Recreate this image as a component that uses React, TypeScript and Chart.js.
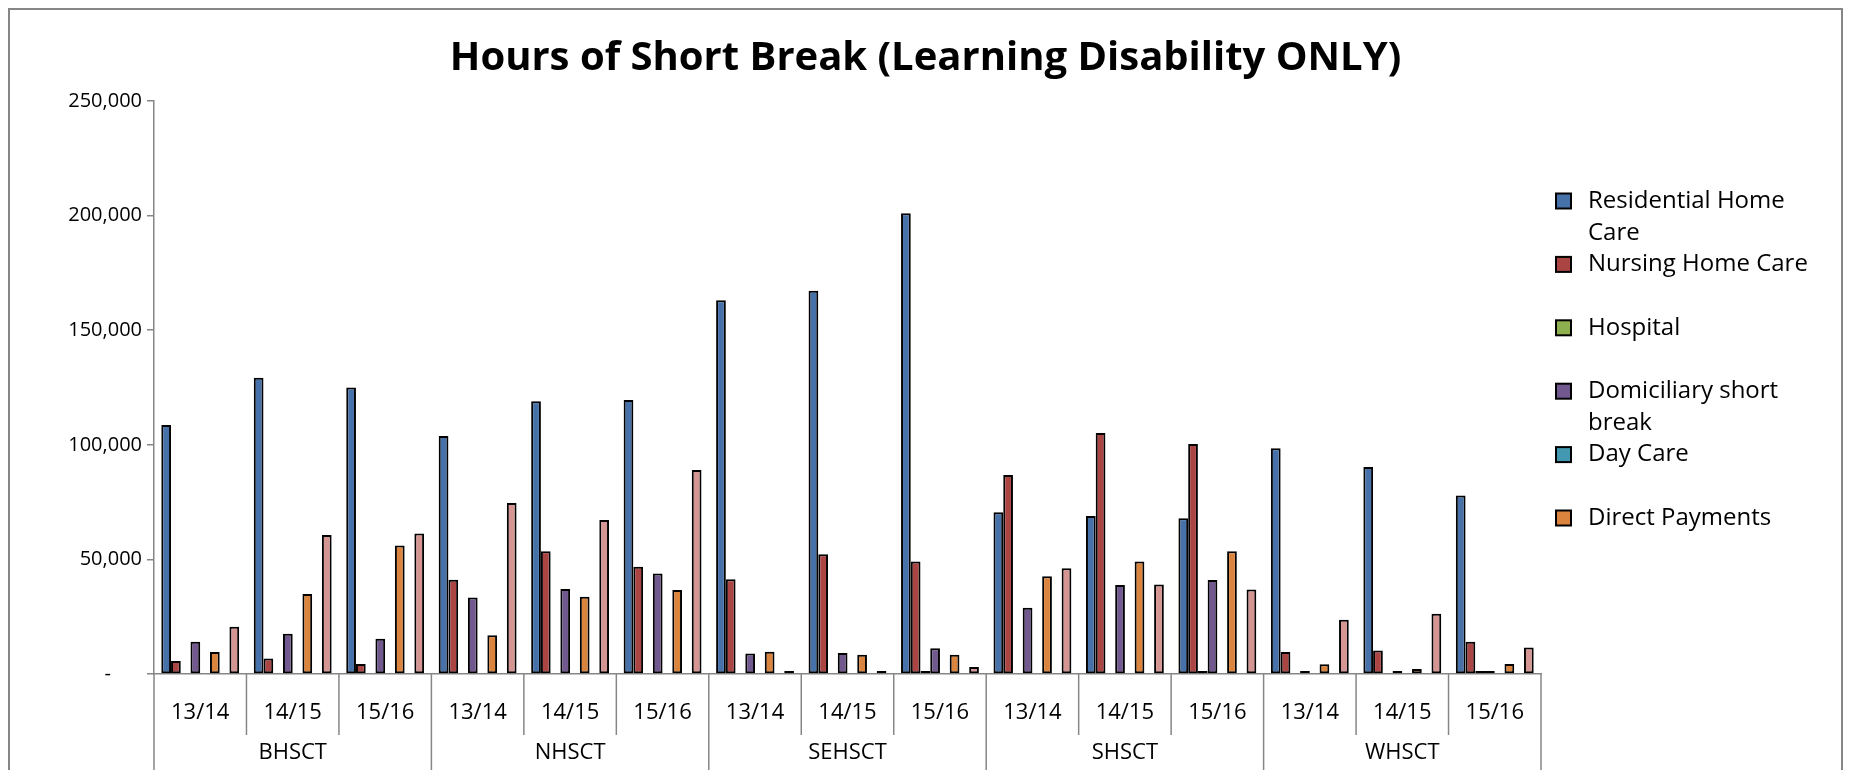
import React, { useEffect, useRef } from 'react';
import { Chart, registerables } from 'chart.js';

Chart.register(...registerables);

const TITLE = 'Hours of Short Break (Learning Disability ONLY)';
const TRUSTS = ['BHSCT', 'NHSCT', 'SEHSCT', 'SHSCT', 'WHSCT'];
const YEARS = ['13/14', '14/15', '15/16'];

const RESIDENTIAL = [108600, 129200, 125000, 103800, 119000, 119500, 163100, 167200, 201000, 70600, 68900, 68000, 98500, 90300, 77900];
const NURSING = [5700, 6800, 4400, 41100, 53600, 46800, 41300, 52300, 49100, 86800, 105200, 100400, 9600, 10300, 14100];
const HOSPITAL = [null, null, null, null, null, null, null, null, 400, null, null, 300, null, null, 200];
const DOMICILIARY = [14100, 17600, 15400, 33400, 37100, 43900, 8900, 9200, 11200, 28900, 38800, 41000, 900, 900, 1300];
const DAY_CARE = [null, null, null, null, null, null, null, null, null, null, null, null, null, null, null];
const DIRECT_PAYMENTS = [9600, 34900, 56100, 16900, 33700, 36600, 9700, 8400, 8400, 42600, 49100, 53600, 4200, 2200, 4400];
const OTHER_EMPTY = [null, null, null, null, null, null, null, null, null, null, null, null, null, null, null];
const OTHER = [20600, 60600, 61300, 74600, 67200, 89000, 400, 400, 3100, 46100, 39100, 36900, 23700, 26300, 11600];

const SERIES_NAMES = ['Residential Home Care', 'Nursing Home Care', 'Hospital', 'Domiciliary short break', 'Day Care', 'Direct Payments', 'Other Services', 'Other'];
const SERIES_VALUES = [RESIDENTIAL, NURSING, HOSPITAL, DOMICILIARY, DAY_CARE, DIRECT_PAYMENTS, OTHER_EMPTY, OTHER];
const SERIES_COLORS = ['#4672A9', '#AA4543', '#8FB04F', '#71588F', '#4299B1', '#DB843D', '#93A9CF', '#D59593'];
const LEGEND_VISIBLE = 6;

const Y_MAX = 250000;
const Y_STEP = 50000;

const GRAY = '#868686';
const FONT = "'Open Sans', 'DejaVu Sans', sans-serif";

const CATEGORY_LABELS = TRUSTS.flatMap(() => YEARS);

const multiLevelAxis = {
  id: 'multiLevelAxis',
  afterDraw(chart: any) {
    const x = chart.scales.x;
    const ctx = chart.ctx;
    const n = chart.data.labels.length;
    const step = (x.right - x.left) / n;
    ctx.save();
    ctx.strokeStyle = GRAY;
    ctx.lineWidth = 1.5;
    for (let i = 0; i <= n; i++) {
      const px = x.left + i * step;
      const isGroup = i % YEARS.length === 0;
      ctx.beginPath();
      ctx.moveTo(px, x.top);
      ctx.lineTo(px, isGroup ? chart.height : x.top + 61);
      ctx.stroke();
    }
    ctx.fillStyle = '#000';
    ctx.font = `22px ${FONT}`;
    ctx.textAlign = 'center';
    ctx.textBaseline = 'middle';
    TRUSTS.forEach((t, g) => {
      const cx = x.left + (g * YEARS.length + YEARS.length / 2) * step;
      ctx.fillText(t, cx, x.top + 79);
    });
    ctx.restore();
  },
};

const sideLegend = {
  id: 'sideLegend',
  afterDraw(chart: any) {
    const ctx = chart.ctx;
    const area = chart.chartArea;
    const markerX = area.right + 15;
    const textX = area.right + 47;
    const maxW = 245;
    const startY = 191;
    const gap = 63.4;
    const lineH = 32;
    ctx.save();
    ctx.font = `24px ${FONT}`;
    ctx.textAlign = 'left';
    ctx.textBaseline = 'middle';
    chart.data.datasets.slice(0, LEGEND_VISIBLE).forEach((ds: any, i: number) => {
      const y = startY + i * gap;
      ctx.fillStyle = ds.backgroundColor;
      ctx.fillRect(markerX, y - 7.5, 15, 15);
      ctx.strokeStyle = '#000';
      ctx.lineWidth = 2;
      ctx.strokeRect(markerX, y - 7.5, 15, 15);
      const words = String(ds.label).split(' ');
      const lines: string[] = [];
      let cur = '';
      words.forEach((w) => {
        const test = cur ? cur + ' ' + w : w;
        if (ctx.measureText(test).width > maxW && cur) {
          lines.push(cur);
          cur = w;
        } else {
          cur = test;
        }
      });
      if (cur) lines.push(cur);
      ctx.fillStyle = '#000';
      lines.forEach((l, k) => ctx.fillText(l, textX, y + k * lineH));
    });
    ctx.restore();
  },
};

export default function App() {
  const ref = useRef<HTMLCanvasElement | null>(null);

  useEffect(() => {
    if (!ref.current) return;
    const chart = new Chart(ref.current, {
      type: 'bar',
      data: {
        labels: CATEGORY_LABELS,
        datasets: SERIES_NAMES.map((name, i) => ({
          label: name,
          data: SERIES_VALUES[i],
          backgroundColor: SERIES_COLORS[i],
          borderColor: '#000',
          borderWidth: 2,
          borderSkipped: false,
          minBarLength: 3,
          categoryPercentage: 8 / 9.5,
          barPercentage: 1,
        })),
      },
      options: {
        responsive: false,
        animation: false,
        layout: { padding: { left: 0, right: 0, top: 0, bottom: 0 } },
        plugins: {
          legend: { display: false },
          tooltip: { enabled: false },
          title: {
            display: true,
            text: TITLE,
            color: '#000',
            font: { family: FONT, size: 40, weight: 'bold' },
            padding: { top: 25, bottom: 18 },
          },
        },
        scales: {
          x: {
            offset: true,
            grid: { display: true, drawOnChartArea: false, drawTicks: false },
            border: { display: true, color: GRAY, width: 1.5 },
            ticks: {
              autoSkip: false,
              maxRotation: 0,
              color: '#000',
              font: { family: FONT, size: 22 },
              padding: 26,
            },
            afterFit: (scale: any) => {
              scale.height = 96;
            },
          },
          y: {
            min: 0,
            max: Y_MAX,
            grid: { drawOnChartArea: false, drawTicks: true, tickLength: 7, color: GRAY, lineWidth: 1.5 },
            border: { display: true, color: GRAY, width: 1.5 },
            ticks: {
              stepSize: Y_STEP,
              color: '#000',
              padding: 5,
              font: { family: FONT, size: 20 },
              callback: (v: any) => (Number(v) === 0 ? '-      ' : Number(v).toLocaleString('en-US')),
            },
            afterFit: (scale: any) => {
              scale.width = 144;
            },
          },
          legendSpace: {
            position: 'right',
            display: true,
            grid: { display: false },
            border: { display: false },
            ticks: { display: false },
            afterFit: (scale: any) => {
              scale.width = 300;
            },
          },
        },
      },
      plugins: [multiLevelAxis, sideLegend],
    });
    return () => chart.destroy();
  }, []);

  return (
    <div
      style={{
        position: 'relative',
        width: 1835,
        height: 762,
        border: `2px solid ${GRAY}`,
        borderBottom: 'none',
        boxSizing: 'border-box',
        background: '#fff',
      }}
    >
      <canvas ref={ref} width={1831} height={760} style={{ display: 'block' }} />
    </div>
  );
}
